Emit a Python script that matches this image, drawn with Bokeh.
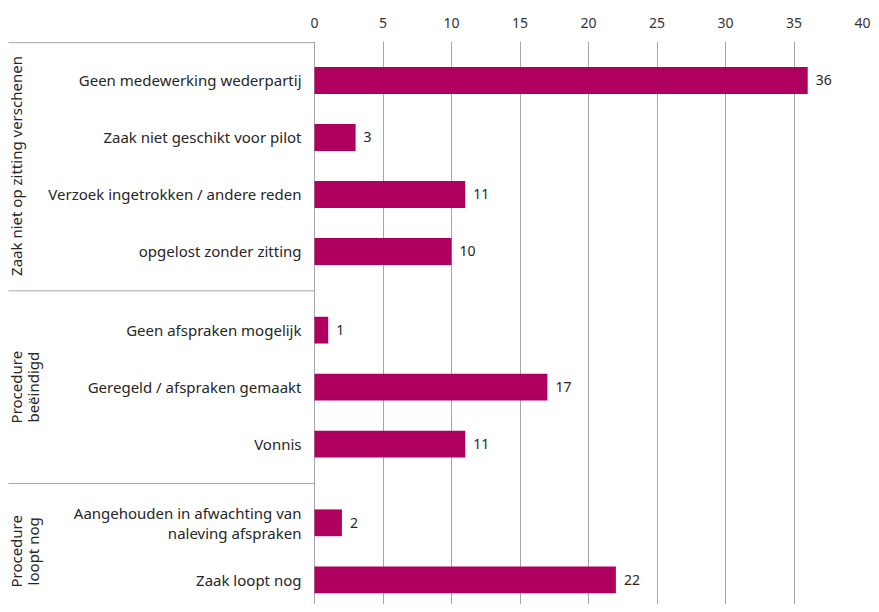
import math
from bokeh.plotting import figure
from bokeh.models import Range1d, FixedTicker, ColumnDataSource
from bokeh.core.properties import value
from bokeh.embed import file_html
from bokeh.resources import INLINE

# ---- data ----
groups = ["Zaak niet op zitting verschenen", "Procedure\nbeëindigd", "Procedure\nloopt nog"]
categories = [
    "Geen medewerking wederpartij",
    "Zaak niet geschikt voor pilot",
    "Verzoek ingetrokken / andere reden",
    "opgelost zonder zitting",
    "Geen afspraken mogelijk",
    "Geregeld / afspraken gemaakt",
    "Vonnis",
    "Aangehouden in afwachting van\nnaleving afspraken",
    "Zaak loopt nog",
]
category_group = [0, 0, 0, 0, 1, 1, 1, 2, 2]
values = [36, 3, 11, 10, 1, 17, 11, 2, 22]
x_ticks = [0, 5, 10, 15, 20, 25, 30, 35, 40]

# ---- layout ----
FONT = "Noto Sans"
BAR_COLOR = "#AF005F"
TEXT_COLOR = "#262626"
LINE_COLOR = "#A6A6A6"
W, H = 871, 604
FRAME_TOP = 41
FRAME_RIGHT_PAD = 9
ZERO_PX = 314              # pixel of x=0 inside frame
frame_w = W - FRAME_RIGHT_PAD
px_per_unit = (frame_w - ZERO_PX) / 40.0
x_start = -ZERO_PX / px_per_unit
GAP = 0.38
TOP_PAD = 0.684
frame_h = H - FRAME_TOP
slot_px = 57.0
y_top = -TOP_PAD
y_bottom = y_top + frame_h / slot_px

ypos = [i + GAP * g for i, g in enumerate(category_group)]

p = figure(width=W, height=H, output_backend="svg", toolbar_location=None,
           x_axis_location="above", y_axis_location=None,
           x_range=Range1d(x_start, 40), y_range=Range1d(y_bottom, y_top),
           min_border_left=0, min_border_right=FRAME_RIGHT_PAD,
           min_border_top=FRAME_TOP, min_border_bottom=0)
p.outline_line_color = None
p.background_fill_color = "white"
p.border_fill_color = "white"

ax = p.xaxis[0]
ax.ticker = FixedTicker(ticks=x_ticks)
ax.axis_line_color = None
ax.major_tick_line_color = None
ax.minor_tick_line_color = None
ax.major_label_text_font = FONT
ax.major_label_text_font_size = "14px"
ax.major_label_text_color = "#333333"
ax.major_label_standoff = 8

p.xgrid.ticker = FixedTicker(ticks=x_ticks)
p.xgrid.grid_line_color = LINE_COLOR
p.xgrid.grid_line_width = 1
p.ygrid.visible = False

src = ColumnDataSource(dict(y=ypos, v=values, cat=categories,
                            lab=[str(v) for v in values]))
p.hbar(y="y", left=0, right="v", height=0.47, fill_color=BAR_COLOR,
       line_color=None, source=src)

# value labels
p.text(x="v", y="y", text="lab", source=src, x_offset=8,
       text_align="left", text_baseline="middle",
       text_font=value(FONT), text_font_size=value("14px"), text_color=TEXT_COLOR)

# category labels
p.text(x=-13 / px_per_unit, y="y", text="cat", source=src,
       text_align="right", text_baseline="middle",
       text_font=value(FONT), text_font_size=value("15px"), text_color=TEXT_COLOR,
       text_line_height=0.98)

# group separators and labels
seps = [y_top + 0.02]
gcent = []
for g in range(len(groups)):
    ys = [y for y, gg in zip(ypos, category_group) if gg == g]
    gcent.append((ys[0] + ys[-1]) / 2)
    if g > 0:
        prev = [y for y, gg in zip(ypos, category_group) if gg == g - 1]
        seps.append((prev[-1] + ys[0]) / 2)
p.segment(x0=[x_start + 8 / px_per_unit] * len(seps), y0=seps, x1=[0] * len(seps), y1=seps,
          line_color=LINE_COLOR, line_width=1)

p.text(x=[x_start + 5 / px_per_unit] * len(groups), y=gcent, text=groups,
       angle=math.pi / 2, text_align="center", text_baseline="top",
       text_font=value(FONT), text_font_size=value("15px"), text_color=TEXT_COLOR,
       text_line_height=0.85)

open("out.html", "w").write(file_html(p, INLINE))
